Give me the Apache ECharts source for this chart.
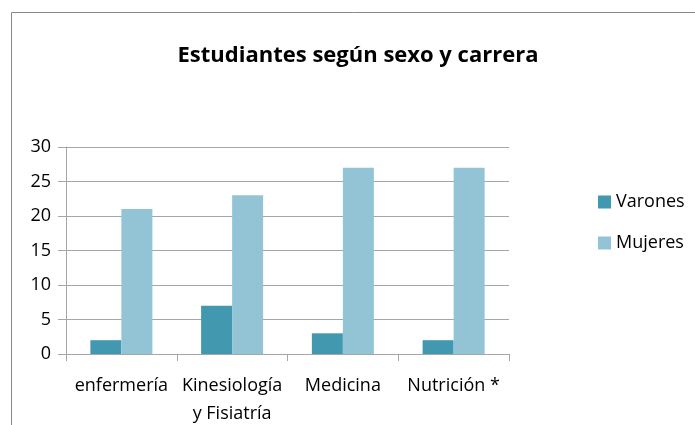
<!DOCTYPE html>
<html>
<head>
<meta charset="utf-8">
<script src="https://cdn.jsdelivr.net/npm/echarts@6/dist/echarts.min.js"></script>
<style>
  html, body { margin: 0; padding: 0; background: #fff; }
  #chart { width: 695px; height: 425px; }
</style>
</head>
<body>
<div id="chart"></div>
<script>
const carreras = ['enfermería', 'Kinesiología\ny Fisiatría', 'Medicina', 'Nutrición *']
const varones = [2, 7, 3, 2]
const mujeres = [21, 23, 27, 27]
const yTicks = [0, 5, 10, 15, 20, 25, 30]

const font = '"Open Sans", sans-serif'
const chart = echarts.init(document.getElementById('chart'))

chart.setOption({
  animation: false,
  textStyle: { fontFamily: font },
  title: {
    text: 'Estudiantes según sexo y carrera',
    left: 353,
    textAlign: 'center',
    top: 40,
    textStyle: { fontFamily: font, fontSize: 22, fontWeight: 'bold', color: '#000' }
  },
  graphic: [{
    type: 'rect',
    shape: { x: 11.5, y: 12.5, width: 700, height: 430 },
    style: { fill: 'none', stroke: '#888', lineWidth: 1 },
    silent: true
  }],
  legend: {
    orient: 'vertical',
    left: 593,
    top: 188,
    itemWidth: 13,
    itemHeight: 13,
    itemGap: 23,
    icon: 'rect',
    textStyle: { fontFamily: font, fontSize: 18, color: '#000' },
    data: ['Varones', 'Mujeres']
  },
  grid: { left: 66, right: 186, top: 147, bottom: 71, outerBoundsMode: 'none' },
  xAxis: {
    type: 'category',
    data: carreras,
    axisLine: { lineStyle: { color: '#a6a6a6' } },
    axisTick: { show: true, length: 7, lineStyle: { color: '#a6a6a6' } },
    axisLabel: { color: '#000', fontSize: 18, margin: 18, lineHeight: 28, interval: 0 }
  },
  yAxis: {
    type: 'value',
    min: yTicks[0],
    max: yTicks[yTicks.length - 1],
    interval: 5,
    axisLine: { show: true, lineStyle: { color: '#a6a6a6' } },
    axisTick: { show: true, length: 8, inside: false, lineStyle: { color: '#a6a6a6' } },
    axisLabel: { color: '#000', fontSize: 18, margin: 15 },
    splitLine: { lineStyle: { color: '#a6a6a6' } }
  },
  series: [
    {
      name: 'Varones',
      type: 'bar',
      data: varones,
      barGap: '0%',
      barCategoryGap: '44%',
      itemStyle: { color: '#4298af' }
    },
    {
      name: 'Mujeres',
      type: 'bar',
      data: mujeres,
      barGap: '0%',
      barCategoryGap: '44%',
      itemStyle: { color: '#93c4d5' }
    }
  ]
})
</script>
</body>
</html>
